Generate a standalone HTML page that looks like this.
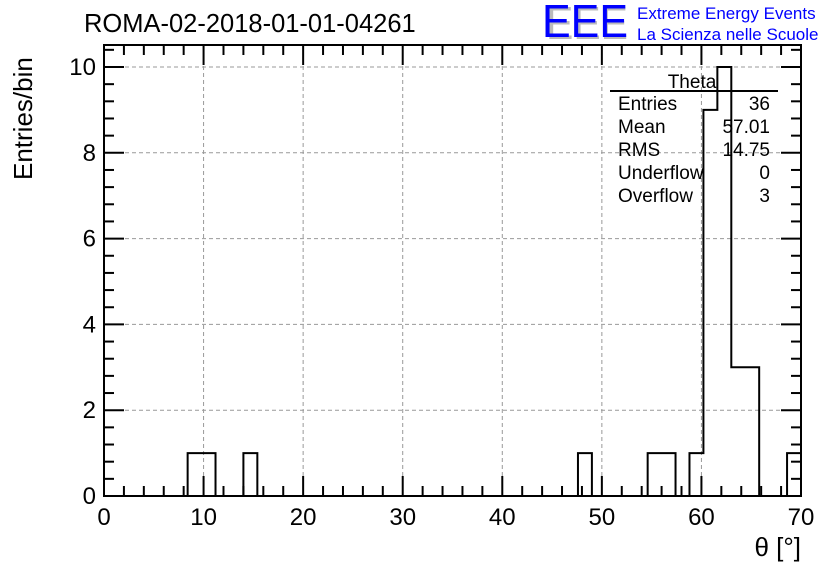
<!DOCTYPE html>
<html><head><meta charset="utf-8"><style>
body{margin:0;background:#fff;font-family:"Liberation Sans",sans-serif}
svg text{font-family:"Liberation Sans",sans-serif}
</style></head><body>
<svg width="836" height="572" viewBox="0 0 836 572">
<rect width="836" height="572" fill="#fff"/>
<g id="grid"></g>
<g id="ticks"></g>
<g id="labels"></g>
<path id="hist" fill="none" stroke="#000" stroke-width="2"/>
<rect x="104" y="45" width="697" height="451" fill="none" stroke="#000" stroke-width="2"/>
<text x="84" y="32" font-size="25.5">ROMA-02-2018-01-01-04261</text>
<text x="546" y="39" font-size="46" fill="#bbb" textLength="82" lengthAdjust="spacingAndGlyphs">EEE</text>
<text x="542" y="37" font-size="46" fill="#0000ff" textLength="86" lengthAdjust="spacingAndGlyphs">EEE</text>
<text x="637" y="19" font-size="17" fill="#0000ff">Extreme Energy Events</text>
<text x="637" y="40" font-size="17" fill="#0000ff">La Scienza nelle Scuole</text>
<text x="32" y="180" font-size="26" transform="rotate(-90 32 180)">Entries/bin</text>
<text x="801" y="556" font-size="26" text-anchor="end">θ [°]</text>
<g font-size="19">
<text x="692" y="88" text-anchor="middle">Theta</text>
<line x1="610" y1="91" x2="778" y2="91" stroke="#000" stroke-width="2"/>
<text x="618" y="110">Entries</text><text x="770" y="110" text-anchor="end">36</text>
<text x="618" y="133">Mean</text><text x="770" y="133" text-anchor="end">57.01</text>
<text x="618" y="156">RMS</text><text x="770" y="156" text-anchor="end">14.75</text>
<text x="618" y="179">Underflow</text><text x="770" y="179" text-anchor="end">0</text>
<text x="618" y="202">Overflow</text><text x="770" y="202" text-anchor="end">3</text>
</g>
</svg>
<script>
const binCounts=[0,0,0,0,0,0,1,1,0,0,1,0,0,0,0,0,0,0,0,0,0,0,0,0,0,0,0,0,0,0,0,0,0,0,1,0,0,0,0,1,1,0,1,9,10,3,3,0,0,1];
const xTicks=[0,10,20,30,40,50,60,70];
const yTicks=[0,2,4,6,8,10];
const xMin=0,xMax=70,yMin=0,yMax=10;
const L=104,R=801,T=45,B=496,Y10=67;
const sx=v=>L+(v-xMin)/(xMax-xMin)*(R-L);
const sy=v=>B-(v-yMin)/(yMax-yMin)*(B-Y10);
const NS="http://www.w3.org/2000/svg";
function mk(tag,attrs,parent){const e=document.createElementNS(NS,tag);for(const k in attrs)e.setAttribute(k,attrs[k]);parent.appendChild(e);return e;}
const grid=document.getElementById('grid'),ticks=document.getElementById('ticks'),labels=document.getElementById('labels');
xTicks.forEach(v=>{
 if(v>xMin&&v<xMax){const g=mk('line',{x1:sx(v),x2:sx(v),y1:T,y2:B,stroke:'#999','stroke-dasharray':'4,3'},grid);
 
 }
 const t=mk('text',{x:sx(v),y:B+29,'font-size':24,'text-anchor':'middle'},labels);t.textContent=v;
 
 
});
yTicks.forEach(v=>{
 if(v>yMin&&sy(v)>T){const g=mk('line',{x1:L,x2:R,y1:sy(v),y2:sy(v),stroke:'#999','stroke-dasharray':'4,3'},grid);
 
 }
 const t=mk('text',{x:L-8,y:sy(v)+8,'font-size':24,'text-anchor':'end'},labels);t.textContent=v;
 
 
});
for(let v=xMin;v<=xMax;v+=2){const len=v%10===0?20:10;
 mk('line',{x1:sx(v),x2:sx(v),y1:B,y2:B-len,stroke:'#000','stroke-width':2},ticks);
 mk('line',{x1:sx(v),x2:sx(v),y1:T,y2:T+len,stroke:'#000','stroke-width':2},ticks);}
for(let v=yMin;sy(v)>=T;v+=0.4){const r=Math.round(v*10)/10;const len=(Math.abs(r%2)<1e-6)?20:10;
 mk('line',{x1:L,x2:L+len,y1:sy(r),y2:sy(r),stroke:'#000','stroke-width':2},ticks);
 mk('line',{x1:R,x2:R-len,y1:sy(r),y2:sy(r),stroke:'#000','stroke-width':2},ticks);}
const w=(xMax-xMin)/binCounts.length;
let d='M'+sx(xMin)+','+sy(0);
binCounts.forEach((c,i)=>{d+=' L'+sx(xMin+i*w)+','+sy(c)+' L'+sx(xMin+(i+1)*w)+','+sy(c);});
d+=' L'+sx(xMax)+','+sy(0);
document.getElementById('hist').setAttribute('d',d);
</script>
</body></html>
